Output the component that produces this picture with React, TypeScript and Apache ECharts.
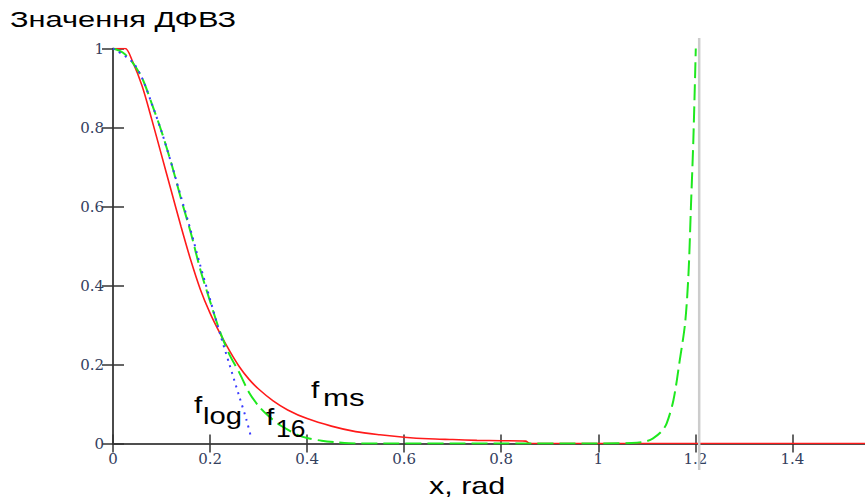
import React, { useEffect, useRef } from "react";
import * as echarts from "echarts";

const titleText = "Значення ДФВЗ";
const xAxisTitle = "x, rad";

const xTicks = [0, 0.2, 0.4, 0.6, 0.8, 1, 1.2, 1.4];
const xMax = 1.56;
const markerX = 1.208;

// f_ms (red, solid)
const fmsX = [0, 0.025, 0.04, 0.06, 0.08, 0.1, 0.12, 0.14, 0.16, 0.18, 0.2, 0.22, 0.24, 0.26, 0.28, 0.3, 0.33, 0.36, 0.4, 0.45, 0.5, 0.55, 0.6, 0.65, 0.7, 0.75, 0.8, 0.85, 0.86, 1.0, 1.2, 1.4, 1.56];
const fmsY = [1, 1, 0.968, 0.905, 0.82, 0.73, 0.64, 0.55, 0.465, 0.39, 0.33, 0.28, 0.235, 0.195, 0.163, 0.138, 0.108, 0.085, 0.063, 0.044, 0.03, 0.022, 0.016, 0.012, 0.01, 0.008, 0.007, 0.006, 0, 0, 0, 0, 0];

// f_16 (green, dashed)
const f16X = [0, 0.02, 0.04, 0.06, 0.08, 0.1, 0.12, 0.14, 0.16, 0.18, 0.2, 0.22, 0.24, 0.26, 0.28, 0.3, 0.32, 0.34, 0.36, 0.38, 0.4, 0.43, 0.46, 0.5, 0.8, 1.0, 1.08, 1.1, 1.113, 1.13, 1.141, 1.155, 1.168, 1.179, 1.186, 1.191, 1.196, 1.201];
const f16Y = [1, 0.99, 0.965, 0.925, 0.86, 0.79, 0.71, 0.62, 0.535, 0.44, 0.36, 0.285, 0.225, 0.18, 0.13, 0.095, 0.07, 0.05, 0.035, 0.022, 0.014, 0.007, 0.003, 0, 0, 0, 0.002, 0.006, 0.013, 0.03, 0.051, 0.11, 0.211, 0.305, 0.431, 0.6, 0.77, 1.0];

// f_log (blue, dotted)
const flogX = [0, 0.04, 0.06, 0.08, 0.1, 0.12, 0.14, 0.16, 0.18, 0.2, 0.22, 0.24, 0.26, 0.275, 0.285];
const flogY = [1, 0.966, 0.925, 0.86, 0.79, 0.71, 0.625, 0.54, 0.45, 0.365, 0.28, 0.2, 0.12, 0.06, 0.013];

const zip = (xs: number[], ys: number[]) => xs.map((x, i) => [x, ys[i]]);

const SANS = "Liberation Sans";
const SERIF = "DejaVu Serif";
const AXIS_COLOR = "#444444";
const LABEL_COLOR = "#34405e";

export default function App() {
  const ref = useRef<HTMLDivElement>(null);

  useEffect(() => {
    if (!ref.current) return;
    const chart = echarts.init(ref.current, undefined, { renderer: "svg" });

    const baseX = {
      type: "value" as const,
      min: 0,
      max: xMax,
      interval: 0.2,
      splitLine: { show: false },
      axisLine: { show: true, lineStyle: { color: AXIS_COLOR, width: 1.6 } },
      axisTick: { show: true, inside: true, length: 9, lineStyle: { color: "#333", width: 1.5 } },
    };
    const baseY = {
      type: "value" as const,
      min: 0,
      max: 1,
      interval: 0.2,
      splitLine: { show: false },
      axisLine: { show: true, lineStyle: { color: AXIS_COLOR, width: 1.6 } },
      axisTick: { show: true, inside: true, length: 11, lineStyle: { color: "#333", width: 1.5 } },
    };

    const option: any = {
      animation: false,
      backgroundColor: "#ffffff",
      grid: { left: 113, top: 48.5, width: 757, height: 395, containLabel: false },
      xAxis: [
        {
          ...baseX,
          position: "bottom",
          axisLabel: {
            show: true,
            margin: 8,
            fontFamily: SERIF,
            fontSize: 15,
            color: LABEL_COLOR,
            formatter: (v: number) => (xTicks.some((t) => Math.abs(t - v) < 1e-6) ? String(Math.round(v * 10) / 10) : ""),
          },
        },
        { ...baseX, position: "top", axisLabel: { show: false } },
      ],
      yAxis: [
        {
          ...baseY,
          position: "left",
          axisLabel: {
            show: true,
            margin: 9,
            fontFamily: SERIF,
            fontSize: 15,
            color: LABEL_COLOR,
            formatter: (v: number) => String(Math.round(v * 10) / 10),
          },
        },
        { ...baseY, position: "right", axisLabel: { show: false } },
      ],
      series: [
        {
          name: "fms",
          type: "line",
          data: zip(fmsX, fmsY),
          showSymbol: false,
          symbol: "none",
          smooth: 0.3,
          lineStyle: { color: "#ff1a1a", width: 1.6 },
          z: 3,
        },
        {
          name: "f16",
          type: "line",
          data: zip(f16X, f16Y),
          showSymbol: false,
          symbol: "none",
          smooth: 0.3,
          lineStyle: { color: "#1ee81e", width: 2, type: [16, 6] },
          z: 4,
        },
        {
          name: "flog",
          type: "line",
          data: zip(flogX, flogY),
          showSymbol: false,
          symbol: "none",
          smooth: 0.3,
          lineStyle: { color: "#3a3aff", width: 2, type: [2, 5] },
          z: 5,
        },
      ],
    };
    chart.setOption(option);

    const px = chart.convertToPixel({ xAxisIndex: 0 }, markerX) as number;
    const txt = (id: string, text: string, x: number, y: number, size: number, sx: number) => ({
      type: "text",
      id,
      x,
      y,
      scaleX: sx,
      z: 20,
      style: {
        text,
        fill: "#000",
        fontFamily: SANS,
        fontSize: size,
        align: "left",
        verticalAlign: "top",
        textAlign: "left",
        textVerticalAlign: "top",
      },
    });

    chart.setOption({
      graphic: [
        {
          type: "line",
          id: "marker",
          z: 30,
          shape: { x1: px, y1: 38, x2: px, y2: 470 },
          style: { stroke: "#cccccc", lineWidth: 2.5 },
        },
        txt("title", titleText, 10, 9, 22, 1.4),
        txt("xname", xAxisTitle, 429, 474, 24, 1.27),
        txt("flog_f", "f", 194, 394, 23, 1.3),
        txt("flog_s", "log", 203, 405, 23, 1.27),
        txt("f16_f", "f", 266, 406, 23, 1.3),
        txt("f16_s", "16", 276, 416, 24, 1.1),
        txt("fms_f", "f", 311, 379, 23, 1.3),
        txt("fms_s", "ms", 323, 386, 24, 1.3),
      ],
    });

    return () => chart.dispose();
  }, []);

  return (
    <div
      style={{
        position: "fixed",
        left: 0,
        top: 0,
        width: 865,
        height: 502,
        overflow: "hidden",
        background: "#fff",
      }}
    >
      <div ref={ref} style={{ width: 900, height: 502 }} />
    </div>
  );
}
